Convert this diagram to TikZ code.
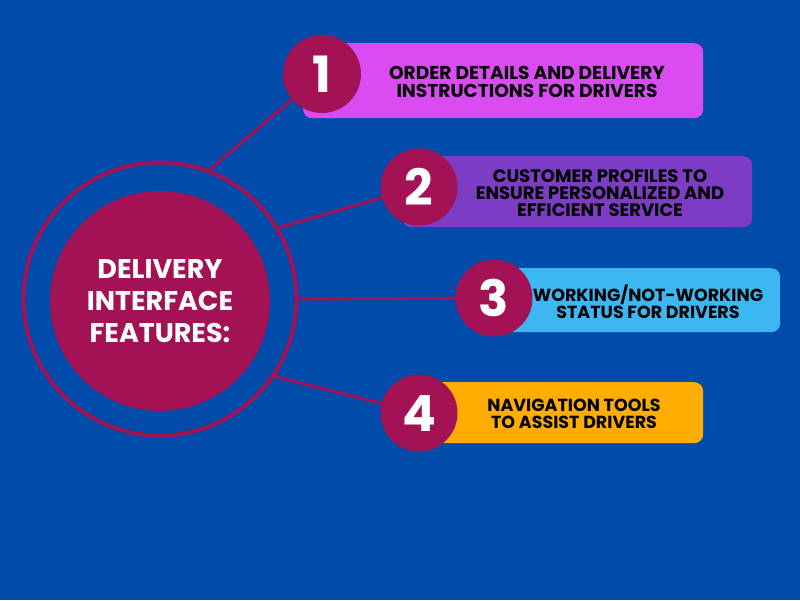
\documentclass[tikz,border=0pt]{standalone}
\usepackage{fontspec}
\setmainfont{Poppins}
\usetikzlibrary{backgrounds}
\pgfdeclarelayer{bgfill}
\pgfsetlayers{bgfill,background,main}
\definecolor{bg}{HTML}{014BAB}
\definecolor{crim}{HTML}{A31254}
\definecolor{cA}{HTML}{D84CF2}
\definecolor{cB}{HTML}{7C3CC4}
\definecolor{cC}{HTML}{3DB7F1}
\definecolor{cD}{HTML}{FFAD00}
\tikzset{
  conn/.style={draw=crim, line width=3pt},
  numc/.style={circle, fill=crim, inner sep=0pt, minimum size=77pt, text=white, font=\fontsize{50}{50}\selectfont\bfseries},
  featbox/.style={rectangle, rounded corners=9pt, inner sep=0pt, anchor=north west},
  boxtext/.style={align=center, text=black, inner sep=0pt, font=\fontsize{#1}{17}\selectfont\bfseries},
  boxtext/.default=19,
}
\begin{document}
\begin{tikzpicture}[x=1pt,y=-1pt]
\begin{pgfonlayer}{bgfill}
\fill[bg] (0,0) rectangle (800,600);
\end{pgfonlayer}
\useasboundingbox (0,0) rectangle (800,600);
% hub
\node[circle, draw=crim, line width=4pt, minimum size=273pt, inner sep=0pt] (ring) at (160,299) {};
\node[circle, fill=crim, minimum size=220pt, inner sep=0pt, text=white, align=center,
  font=\fontsize{27}{32}\selectfont\bfseries] (hub) at (160,301) {DELIVERY\\INTERFACE\\FEATURES:};
% boxes
\node[featbox, fill=cA, minimum width=400pt, minimum height=75pt] (b1) at (303,43) {};
\node[featbox, fill=cB, minimum width=350pt, minimum height=71pt] (b2) at (402,156) {};
\node[featbox, fill=cC, minimum width=300pt, minimum height=64pt] (b3) at (480,268) {};
\node[featbox, fill=cD, minimum width=273pt, minimum height=61pt] (b4) at (430,382) {};
% number circles
\node[numc, minimum size=78pt] (n1) at (322,74) {1};
\node[numc] (n2) at (419,187) {2};
\node[numc] (n3) at (494,298) {3};
\node[numc] (n4) at (419,413) {4};
% connectors
\begin{pgfonlayer}{background}
\draw[conn] (ring.69) -- (n1.center);
\draw[conn] (ring.31) -- (n2.center);
\draw[conn] (ring.0) -- (n3.center);
\draw[conn] (ring.-34) -- (n4.center);
\end{pgfonlayer}
% texts
\node[boxtext, font=\fontsize{18.6}{18}\selectfont\bfseries] (t1) at (527,82) {ORDER DETAILS AND DELIVERY\\INSTRUCTIONS FOR DRIVERS};
\node[boxtext=18] (t2) at (600,193) {CUSTOMER PROFILES TO\\ENSURE PERSONALIZED AND\\EFFICIENT SERVICE};
\node[boxtext=17.5] (t3) at (648,302) {WORKING/NOT-WORKING\\STATUS FOR DRIVERS};
\node[boxtext=17.5] (t4) at (574,414) {NAVIGATION TOOLS\\TO ASSIST DRIVERS};
\end{tikzpicture}
\end{document}
